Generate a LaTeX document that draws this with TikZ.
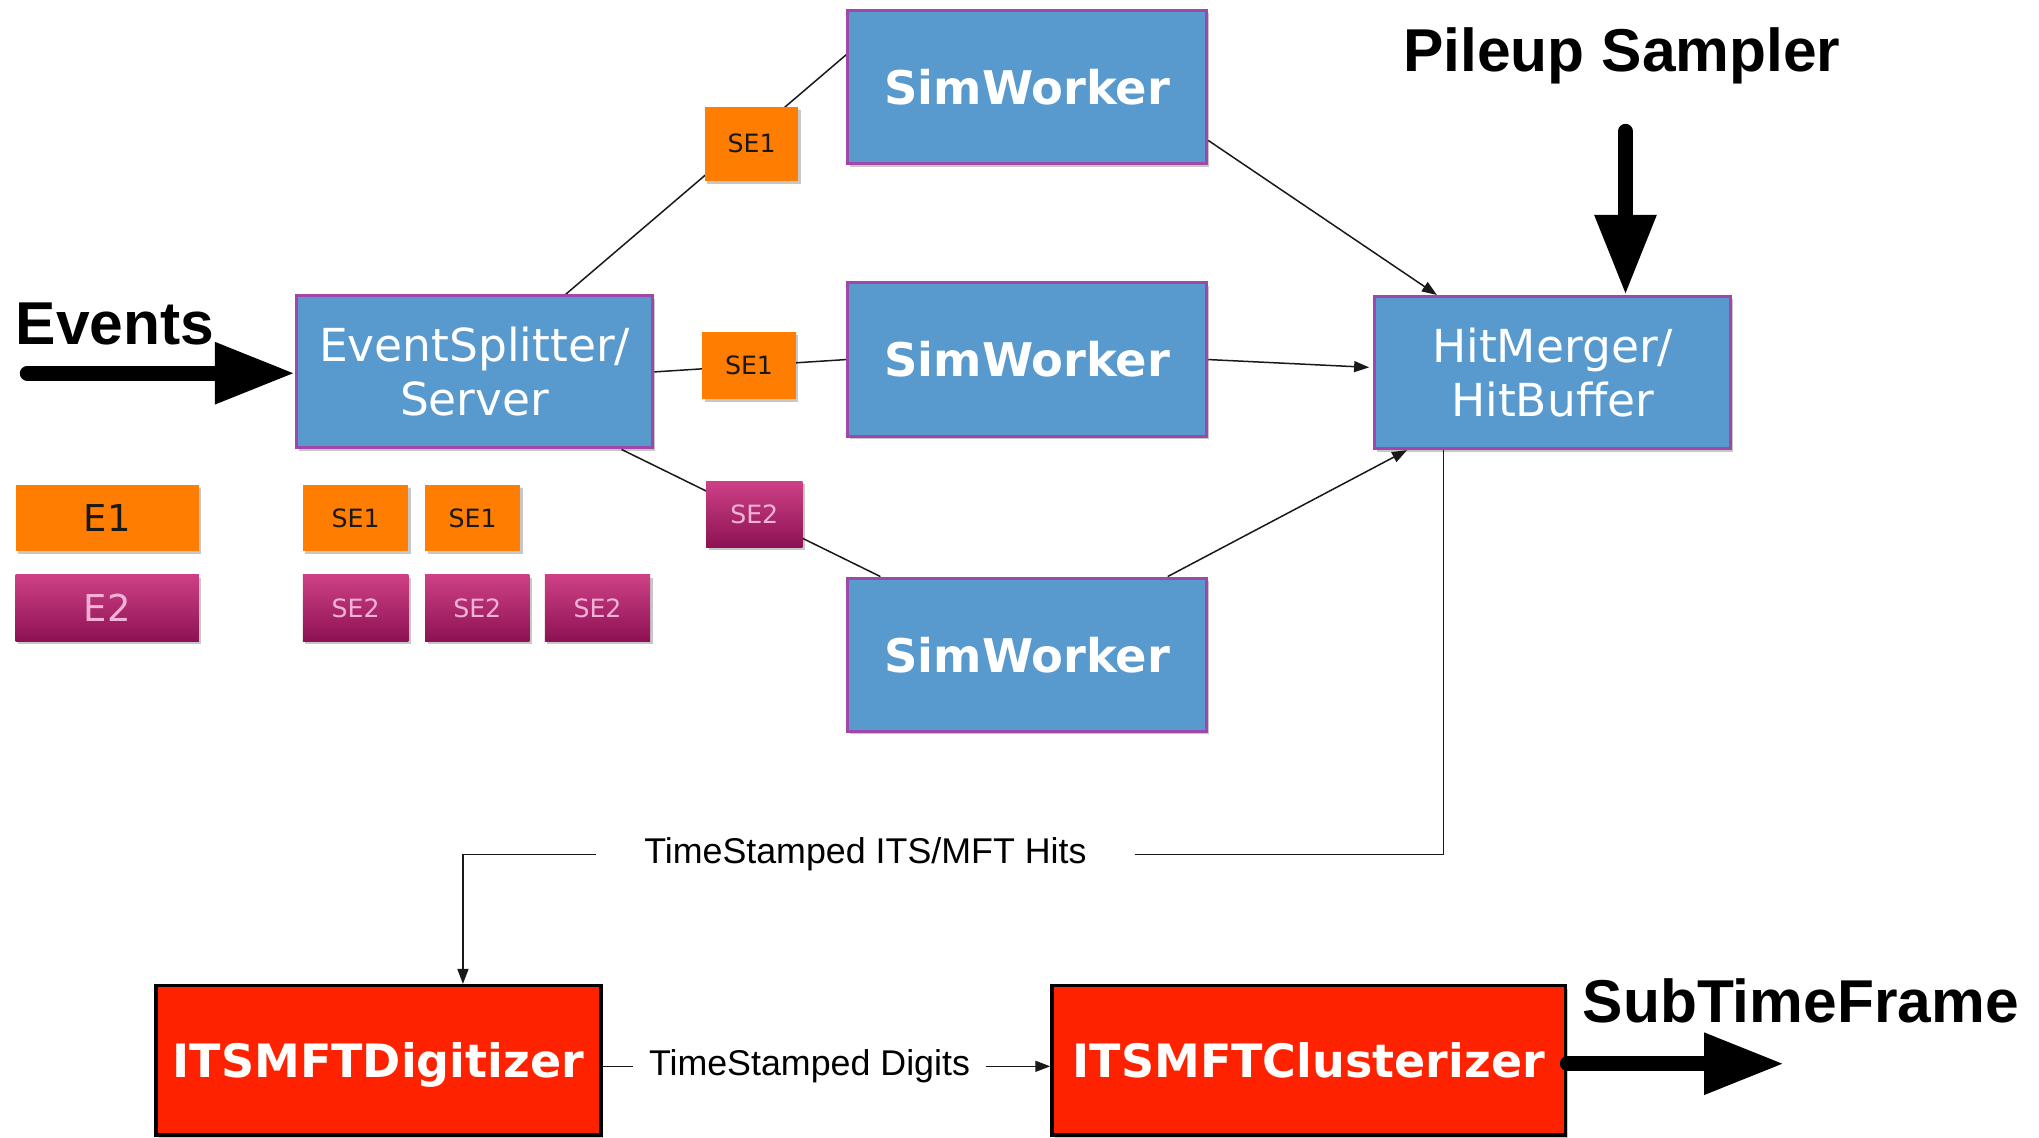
\documentclass[tikz,border=0pt]{standalone}
\usepackage{fontspec}
\setmainfont{Liberation Sans}
\newfontfamily\vfont{DejaVu Sans}
\usetikzlibrary{arrows.meta,calc,shadows,backgrounds}
\definecolor{boxblue}{RGB}{88,153,206}
\definecolor{boxpurple}{RGB}{160,72,168}
\definecolor{boxred}{RGB}{255,34,0}
\definecolor{seorange}{RGB}{255,125,0}
\definecolor{magtop}{RGB}{206,64,134}
\definecolor{magbot}{RGB}{140,18,84}
\definecolor{pinktext}{RGB}{242,178,214}
\def\u{1.3004}
\begin{document}
\begin{tikzpicture}[x=1.3004pt,y=-1.3004pt,
  shad/.style={drop shadow={shadow xshift=2.5pt,shadow yshift=-3pt,fill=black,opacity=0.22}},
  bluebox/.style={shad, draw=boxpurple, line width=3pt, fill=boxblue, text=white,
    minimum width=\u*274pt, minimum height=\u*117pt, inner sep=0pt, align=center,
    font=\vfont\fontsize{45.5}{54}\selectfont},
  simbox/.style={bluebox, minimum width=\u*276pt, minimum height=\u*118pt,
    font=\vfont\bfseries\fontsize{46.4}{53}\selectfont},
  redbox/.style={shad, draw=black, line width=3.5pt, fill=boxred, text=white,
    minimum height=\u*115pt, inner sep=0pt, text depth=0pt,
    font=\vfont\bfseries\fontsize{46}{53}\selectfont},
  ebox/.style={shad, minimum height=\u*51pt, inner sep=0pt,
    font=\vfont\fontsize{25.2}{30}\selectfont},
  orangebox/.style={ebox, fill=seorange, text=black!90},
  magbox/.style={ebox, top color=magtop, bottom color=magbot, text=pinktext},
  bigtext/.style={font=\bfseries\fontsize{60.5}{70}\selectfont, inner sep=0pt},
  labtext/.style={font=\fontsize{35.8}{42}\selectfont, inner ysep=0pt},
  conn/.style={line width=1.5pt, draw=black!90},
  arr/.style={conn, -{Triangle[length=15pt,width=11pt]}},
  bigarr/.style={line width=15pt, line cap=round, -{Triangle[length=80pt,width=58pt]}}
]
\useasboundingbox (0,0) rectangle (1568,875);

% main boxes
\node[bluebox] (es) at (365,286) {EventSplitter/\\Server};
\node[simbox] (sw1) at (790,67) {SimWorker};
\node[simbox] (sw2) at (790,276.5) {SimWorker};
\node[simbox] (sw3) at (790,503.5) {SimWorker};
\node[bluebox] (hm) at (1194,286.5) {HitMerger/\\HitBuffer};
\node[redbox, minimum width=\u*342pt] (dig) at (291,815.5) {ITSMFTDigitizer};
\node[redbox, minimum width=\u*395pt] (clu) at (1006.5,815.5) {ITSMFTClusterizer};

% sub-event tokens on the connectors
\node[orangebox, minimum width=\u*72pt, minimum height=\u*57pt] (se1a) at (578,110.5) {SE1};
\node[orangebox, minimum width=\u*72pt, minimum height=\u*52pt] (se1b) at (576,281) {SE1};
\node[magbox, minimum width=\u*74pt] (se2a) at (580,395.5) {SE2};

% legend
\node[orangebox, minimum width=\u*141pt, font=\vfont\fontsize{37}{44}\selectfont] (e1) at (82.5,398.5) {E1};
\node[magbox, minimum width=\u*141pt, font=\vfont\fontsize{37}{44}\selectfont] (e2) at (82.5,467.5) {E2};
\node[orangebox, minimum width=\u*81pt] (l1a) at (273.5,398.5) {SE1};
\node[orangebox, minimum width=\u*73pt] (l1b) at (363.5,398.5) {SE1};
\node[magbox, minimum width=\u*81pt] (l2a) at (273.5,467.5) {SE2};
\node[magbox, minimum width=\u*80pt] (l2b) at (367,467.5) {SE2};
\node[magbox, minimum width=\u*81pt] (l2c) at (459.5,467.5) {SE2};

% big labels
\node[bigtext, anchor=base west] (events) at (12,265) {Events};
\node[bigtext, anchor=base west] (pileup) at (1079,55) {Pileup Sampler};
\node[bigtext, anchor=base west] (stf) at (1217,786) {SubTimeFrame};

% connector labels
\node[labtext, inner xsep=48pt] (lab1) at (665.5,657) {TimeStamped ITS/MFT Hits};
\node[labtext, inner xsep=16pt] (lab2) at (622.5,820) {TimeStamped Digits};

% free ends
\coordinate (evstart) at (21,287);
\coordinate (pustart) at (1250,101);
\coordinate (stfend) at (1372,818);

\begin{pgfonlayer}{background}
\draw[conn] ($(es.north)+(70,0)$) -- ($(sw1.west)+(0,-25)$);
\draw[conn] (es.east) -- (sw2.west);
\draw[conn] ($(es.south)+(113,0)$) -- ($(sw3.north)+(-113,0)$);
\end{pgfonlayer}

\draw[arr] ($(sw1.east)+(0,41)$) -- ($(hm.north)+(-89,0)$);
\draw[arr] (sw2.east) -- ($(hm.west)+(-3,-4)$);
\draw[arr] ($(sw3.north)+(108,0)$) -- ($(hm.south)+(-112,0)$);

\draw[conn] ($(hm.south)+(-84,0)$) |- (lab1.east);
\draw[arr] (lab1.west) -| ($(dig.north)+(65,0)$);
\draw[conn] (lab2.west -| dig.east) -- (lab2.west);
\draw[arr] (lab2.east) -- (lab2.east -| clu.west);

\draw[bigarr] (evstart) -- (evstart -| es.west);
\draw[bigarr] (pustart) -- (pustart |- hm.north);
\draw[bigarr] (stfend -| clu.east) -- (stfend);
\end{tikzpicture}
\end{document}
